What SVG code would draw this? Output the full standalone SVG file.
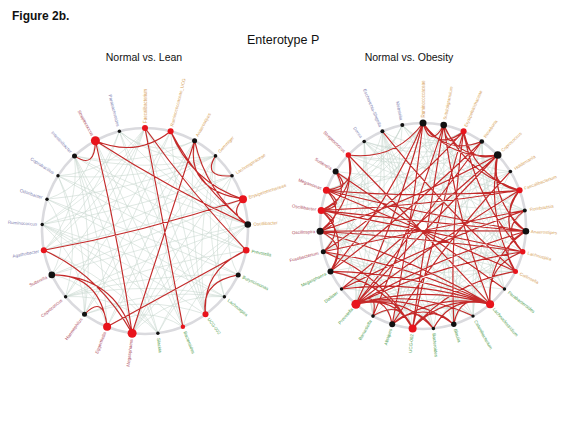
<svg xmlns="http://www.w3.org/2000/svg" xmlns:xlink="http://www.w3.org/1999/xlink" width="567" height="423" viewBox="0 0 567 423">
<style>
.ring{fill:none;stroke:#dadade;stroke-width:2.6}
.web{fill:none;stroke:#c6d6cd;stroke-width:0.5}
.red{fill:none;stroke:#c42a2a;stroke-width:1.15;stroke-linecap:round}
.r{fill:#e8141c}
.b{fill:#111}
.t{font-family:"Liberation Sans",Arial,sans-serif;font-size:4.5px;dominant-baseline:central}
.e{text-anchor:end}
.o{fill:#d6a25a}
.g{fill:#4f9e4f}
.m{fill:#ad4c5e}
.p{fill:#8080b0}
.ttl{font-family:"Liberation Sans",Arial,sans-serif;fill:#111}
</style>
<defs>
<path id="ga" d="M0,-103 Q32.6,-59.3 87,-55.2 M0,-103 Q37.95,-31.4 101.2,19.3 M0,-103 Q14.2,-2.7 37.9,95.8 M0,-103 Q-38.6,-41.1 -102.8,-6.5"/>
<path id="gb" d="M0,-103 Q36.75,-50.6 98,-31.8 M0,-103 Q29.8,-14 79.4,65.7 M0,-103 Q-22.7,-7.4 -60.5,83.3"/>
<path id="gc" d="M0,-103 Q35,-22.2 93.2,43.9 M0,-103 Q-26.4,-66.8 -70.5,-75.1 M0,-103 Q-4.8,-0.3 -12.9,102.2"/>
<path id="ra" d="M0,-103 Q22.05,-70.3 58.8,-84.5 M0,-103 Q38.2,-44.5 101.8,-15.6 M0,-103 Q30.6,-15 81.5,63 M0,-103 Q-36.2,-52.1 -96.6,-35.8 M0,-103 Q-25.2,-9.3 -67.1,78.2"/>
<path id="rb" d="M0,-103 Q32.8,-59.1 87.4,-54.5 M0,-103 Q37.4,-28.95 99.7,25.8 M0,-103 Q18.75,-4.8 50,90.1 M0,-103 Q-38.6,-36.7 -102.9,5.2"/>
<path id="rc" d="M0,-103 Q3.9,-0.2 10.4,102.5 M0,-103 Q-28,-65.3 -74.7,-71 M0,-103 Q-34.7,-21.6 -92.5,45.4 M0,-103 Q-11.55,-1.8 -30.8,98.3"/>
</defs>
<rect width="567" height="423" fill="#fff"/>
<g id="titles">
<text class="ttl" x="12" y="20" font-size="12" font-weight="bold">Figure 2b.</text>
<text class="ttl" x="247" y="44" font-size="12.5">Enterotype P</text>
<text class="ttl" x="144" y="61" font-size="10.5" text-anchor="middle">Normal vs. Lean</text>
<text class="ttl" x="409" y="61" font-size="10.5" text-anchor="middle">Normal vs. Obesity</text>
</g>
<g id="rings">
<circle class="ring" cx="145" cy="231" r="103"/>
<circle class="ring" cx="423" cy="226" r="103"/>
</g>
<g id="connectors">
<g class="web" transform="translate(145,231)">
<use xlink:href="#ga"/><use xlink:href="#gb" transform="rotate(14.4)"/><use xlink:href="#gc" transform="rotate(28.8)"/><use xlink:href="#ga" transform="rotate(43.2)"/><use xlink:href="#gb" transform="rotate(57.6)"/><use xlink:href="#gc" transform="rotate(72)"/><use xlink:href="#ga" transform="rotate(86.4)"/><use xlink:href="#gb" transform="rotate(100.8)"/><use xlink:href="#gc" transform="rotate(115.2)"/><use xlink:href="#ga" transform="rotate(129.6)"/><use xlink:href="#gb" transform="rotate(144)"/><use xlink:href="#gc" transform="rotate(158.4)"/><use xlink:href="#ga" transform="rotate(172.8)"/><use xlink:href="#gb" transform="rotate(187.2)"/><use xlink:href="#gc" transform="rotate(201.6)"/><use xlink:href="#ga" transform="rotate(216)"/><use xlink:href="#gb" transform="rotate(230.4)"/><use xlink:href="#gc" transform="rotate(244.8)"/><use xlink:href="#ga" transform="rotate(259.2)"/><use xlink:href="#gb" transform="rotate(273.6)"/><use xlink:href="#gc" transform="rotate(288)"/><use xlink:href="#ga" transform="rotate(302.4)"/><use xlink:href="#gb" transform="rotate(316.8)"/><use xlink:href="#gc" transform="rotate(331.2)"/><use xlink:href="#ga" transform="rotate(345.6)"/>
</g>
<g class="web" transform="translate(423,226)">
<use xlink:href="#ra"/><use xlink:href="#rb" transform="rotate(11.613)"/><use xlink:href="#rc" transform="rotate(23.226)"/><use xlink:href="#ra" transform="rotate(34.839)"/><use xlink:href="#rb" transform="rotate(46.452)"/><use xlink:href="#rc" transform="rotate(58.065)"/><use xlink:href="#ra" transform="rotate(69.677)"/><use xlink:href="#rb" transform="rotate(81.29)"/><use xlink:href="#rc" transform="rotate(92.903)"/><use xlink:href="#ra" transform="rotate(104.516)"/><use xlink:href="#rb" transform="rotate(116.129)"/><use xlink:href="#rc" transform="rotate(127.742)"/><use xlink:href="#ra" transform="rotate(139.355)"/><use xlink:href="#rb" transform="rotate(150.968)"/><use xlink:href="#rc" transform="rotate(162.581)"/><use xlink:href="#ra" transform="rotate(174.194)"/><use xlink:href="#rb" transform="rotate(185.806)"/><use xlink:href="#rc" transform="rotate(197.419)"/><use xlink:href="#ra" transform="rotate(209.032)"/><use xlink:href="#rb" transform="rotate(220.645)"/><use xlink:href="#rc" transform="rotate(232.258)"/><use xlink:href="#ra" transform="rotate(243.871)"/><use xlink:href="#rb" transform="rotate(255.484)"/><use xlink:href="#rc" transform="rotate(267.097)"/><use xlink:href="#ra" transform="rotate(278.71)"/><use xlink:href="#rb" transform="rotate(290.323)"/><use xlink:href="#rc" transform="rotate(301.935)"/><use xlink:href="#ra" transform="rotate(313.548)"/><use xlink:href="#rb" transform="rotate(325.161)"/><use xlink:href="#rc" transform="rotate(336.774)"/><use xlink:href="#ra" transform="rotate(348.387)"/>
</g>
<path class="red" d="M95.4,140.7 Q137,158 170.6,131.2 M95.4,140.7 Q95,170 74.5,155.9 M95.4,140.7 Q118,236 132.1,333.2 M95.4,140.7 Q172,190 247.8,224.5 M145,128 L182.9,326.8 M145,128 Q191,193 246.2,250.3 M170.6,131.2 Q191,182 243,199.2 M170.6,131.2 Q200,186 247.8,224.5 M194.6,140.7 Q185,190 243,199.2 M194.6,140.7 L132.1,333.2 M215.5,155.9 Q202,178 232,175.8 M243,199.2 Q228,214 247.8,224.5 M243,199.2 Q143,232 43.8,250.3 M246.2,250.3 Q172,291 107.1,326.8 M246.2,250.3 Q202,270 205.5,314.3 M238.2,274.9 Q200,282 205.5,314.3 M43.8,250.3 Q98,274 132.1,333.2 M51.8,274.9 Q114,276 132.1,333.2 M51.8,274.9 Q100,274 107.1,326.8 M84.5,314.3 Q104,294 107.1,326.8 M194.6,140.7 Q206,192 247.8,224.5"/>
<path class="red" d="M423,123 Q438.2,151.9 463.6,131.3 M423,123 Q451,160.8 497.7,155 M443.7,125.1 Q446,152.7 463.6,131.3 M443.7,125.1 Q458.8,161.5 497.7,155 M463.6,131.3 Q466.2,163.9 497.7,155 M423,123 Q445.1,155.7 481.8,141.5 M497.7,155 Q487.2,186 519.6,190.2 M497.7,155 Q489.6,201.3 525.9,231.2 M463.6,131.3 Q474.5,177.1 519.6,190.2 M423,123 Q411.5,224.2 392.2,324.3 M423,123 Q397.8,216.7 355.9,304.2 M443.7,125.1 Q426.9,226.6 412.6,328.5 M443.7,125.1 Q412,222 373,316.1 M463.6,131.3 Q434.3,228.9 412.6,328.5 M463.6,131.3 Q449.8,227.4 453.8,324.3 M481.8,141.5 Q410.4,211.3 330.5,271.4 M497.7,155 Q425.9,228.7 355.9,304.2 M497.7,155 Q412.4,201.3 320.1,231.2 M497.7,155 Q420.5,223 341.5,289 M463.6,131.3 Q400.8,200.2 323.3,251.8 M443.7,125.1 Q455.9,217.5 490.1,304.2 M348.3,155 Q395,160.8 423,123 M348.3,155 Q420.2,228.7 490.1,304.2 M348.3,155 Q358.8,186 326.4,190.2 M348.3,155 Q356.8,193.5 321.2,210.4 M321.2,210.4 Q348.6,206.7 326.4,190.2 M321.2,210.4 Q346.2,222.1 320.1,231.2 M320.1,231.2 Q348.2,214.5 326.4,190.2 M326.4,190.2 Q354,192.1 335.6,171.5 M335.6,171.5 Q352.1,199.7 321.2,210.4 M323.3,251.8 Q347.4,229.8 321.2,210.4 M330.5,271.4 Q349.7,245 320.1,231.2 M330.5,271.4 Q350.1,237.2 321.2,210.4 M326.4,190.2 Q423,199.2 519.6,190.2 M321.2,210.4 Q421.1,206.7 519.6,190.2 M320.1,231.2 Q423,229.9 525.9,231.2 M320.1,231.2 Q421.8,237.6 522.7,251.8 M321.2,210.4 Q423.4,222.1 525.9,231.2 M323.3,251.8 Q423.8,229.8 524.8,210.4 M326.4,190.2 Q421.5,229.6 515.5,271.4 M519.6,190.2 Q497.8,214.5 525.9,231.2 M524.8,210.4 Q498.6,229.8 522.7,251.8 M525.9,231.2 Q496.3,245 515.5,271.4 M519.6,190.2 Q496.6,222.3 522.7,251.8 M525.9,231.2 Q436.4,257.3 355.9,304.2 M522.7,251.8 Q435.2,265 355.9,304.2 M519.6,190.2 Q434.1,241.9 355.9,304.2 M524.8,210.4 Q430.6,243.8 341.5,289 M490.1,304.2 Q423,284.7 355.9,304.2 M490.1,304.2 Q417.6,279 341.5,289 M490.1,304.2 Q413.5,272.4 330.5,271.4 M490.1,304.2 Q410.8,265 323.3,251.8 M490.1,304.2 Q409.6,257.3 320.1,231.2 M490.1,304.2 Q444.3,293.8 412.6,328.5 M490.1,304.2 Q436.6,292.2 392.2,324.3 M490.1,304.2 Q459.7,292.2 453.8,324.3 M490.1,304.2 Q452.1,293.8 433.4,328.5 M355.9,304.2 Q393.9,293.8 412.6,328.5 M355.9,304.2 Q386.3,292.2 392.2,324.3 M355.9,304.2 Q401.7,293.8 433.4,328.5 M355.9,304.2 Q409.4,292.2 453.8,324.3 M355.9,304.2 Q379.1,289.1 373,316.1 M355.9,304.2 Q416.6,289.1 473,316.1 M412.6,328.5 Q430.7,301.3 453.8,324.3 M412.6,328.5 Q400.4,298.2 373,316.1 M412.6,328.5 Q384.4,281.5 330.5,271.4 M453.8,324.3 Q423,299.7 392.2,324.3 M433.4,328.5 Q415.4,301.3 392.2,324.3 M335.6,171.5 Q420.8,229.2 504.5,289 M382.4,131.3 Q442.5,207.5 515.5,271.4 M481.8,141.5 Q419.9,223.6 355.9,304.2 M423,123 Q388.3,204.4 330.5,271.4 M443.7,125.1 Q467,174.7 519.6,190.2 M463.6,131.3 Q475.6,200.2 522.7,251.8 M497.7,155 Q485.7,216.4 515.5,271.4 M423,123 Q430.8,149.5 443.7,125.1 M321.2,210.4 Q422.2,229.8 522.7,251.8 M326.4,190.2 Q425.4,214.5 525.9,231.2 M348.3,155 Q356.4,201.3 320.1,231.2 M323.3,251.8 Q381.7,274.1 412.6,328.5 M522.7,251.8 Q485.6,265 490.1,304.2 M525.9,231.2 Q486.8,257.3 490.1,304.2 M515.5,271.4 Q453.8,281.5 412.6,328.5 M510.4,171.5 Q444.2,242.4 392.2,324.3"/>
</g>
<g id="L0"><circle class="r" cx="145" cy="128" r="3"/><text class="t o" transform="translate(145,123) rotate(-90)">Faecalibacterium</text></g>
<g id="L1"><circle class="r" cx="170.6" cy="131.2" r="3"/><text class="t o" transform="translate(171.9,126.4) rotate(-75.6)">Ruminococcaceae_UCG</text></g>
<g id="L2"><circle class="b" cx="194.6" cy="140.7" r="2.5"/><text class="t o" transform="translate(197,136.4) rotate(-61.2)">Anaerostipes</text></g>
<g id="L3"><circle class="b" cx="215.5" cy="155.9" r="1.8"/><text class="t o" transform="translate(218.9,152.3) rotate(-46.8)">Gemmiger</text></g>
<g id="L4"><circle class="b" cx="232" cy="175.8" r="1.8"/><text class="t o" transform="translate(236.2,173.1) rotate(-32.4)">Lachnospiraceae</text></g>
<g id="L5"><circle class="r" cx="243" cy="199.2" r="4"/><text class="t o" transform="translate(248.7,197.3) rotate(-18)">Erysipelotrichaceae</text></g>
<g id="L6"><circle class="b" cx="247.8" cy="224.5" r="3.3"/><text class="t o" transform="translate(253.3,224.2) rotate(-3.6)">Oscillibacter</text></g>
<g id="L7"><circle class="r" cx="246.2" cy="250.3" r="3.3"/><text class="t g" transform="translate(251.5,251.3) rotate(10.8)">Prevotella</text></g>
<g id="L8"><circle class="b" cx="238.2" cy="274.9" r="2.5"/><text class="t g" transform="translate(242.7,277) rotate(25.2)">Butyricimonas</text></g>
<g id="L9"><circle class="b" cx="224.4" cy="296.7" r="1.7"/><text class="t g" transform="translate(228.2,299.8) rotate(39.6)">Lachnospira</text></g>
<g id="L10"><circle class="r" cx="205.5" cy="314.3" r="3"/><text class="t g" transform="translate(208.5,318.4) rotate(54)">UCG-002</text></g>
<g id="L11"><circle class="r" cx="182.9" cy="326.8" r="2.2"/><text class="t g" transform="translate(184.8,331.4) rotate(68.4)">Bacteroides</text></g>
<g id="L12"><circle class="b" cx="157.9" cy="333.2" r="1.7"/><text class="t g" transform="translate(158.5,338.1) rotate(82.8)">Slackia</text></g>
<g id="L13"><circle class="r" cx="132.1" cy="333.2" r="4.5"/><text class="t e m" transform="translate(131.4,339.2) rotate(-82.8)">Megasphaera</text></g>
<g id="L14"><circle class="r" cx="107.1" cy="326.8" r="4"/><text class="t e m" transform="translate(104.9,332.2) rotate(-68.4)">Eggerthella</text></g>
<g id="L15"><circle class="b" cx="84.5" cy="314.3" r="2.5"/><text class="t e m" transform="translate(81.5,318.4) rotate(-54)">Haemophilus</text></g>
<g id="L16"><circle class="b" cx="65.6" cy="296.7" r="1.7"/><text class="t e m" transform="translate(61.8,299.8) rotate(-39.6)">Coprococcus</text></g>
<g id="L17"><circle class="b" cx="51.8" cy="274.9" r="3.3"/><text class="t e m" transform="translate(46.8,277.2) rotate(-25.2)">Sutterella</text></g>
<g id="L18"><circle class="r" cx="43.8" cy="250.3" r="3"/><text class="t e p" transform="translate(38.9,251.2) rotate(-10.8)">Agathobacter</text></g>
<g id="L19"><circle class="b" cx="42.2" cy="224.5" r="1.7"/><text class="t e p" transform="translate(37.2,224.2) rotate(3.6)">Ruminococcus</text></g>
<g id="L20"><circle class="b" cx="47" cy="199.2" r="1.7"/><text class="t e p" transform="translate(42.3,197.6) rotate(18)">Odoribacter</text></g>
<g id="L21"><circle class="b" cx="58" cy="175.8" r="1.7"/><text class="t e p" transform="translate(53.8,173.1) rotate(32.4)">Coprobacillus</text></g>
<g id="L22"><circle class="b" cx="74.5" cy="155.9" r="2.5"/><text class="t e p" transform="translate(71.1,152.3) rotate(46.8)">Intestinibacter</text></g>
<g id="L23"><circle class="r" cx="95.4" cy="140.7" r="4.5"/><text class="t e m" transform="translate(92.5,135.5) rotate(61.2)">Streptococcus</text></g>
<g id="L24"><circle class="b" cx="119.4" cy="131.2" r="1.7"/><text class="t e p" transform="translate(118.1,126.4) rotate(75.6)">Parabacteroides</text></g>
<g id="R0"><circle class="b" cx="423" cy="123" r="3.5"/><text class="t o" transform="translate(423,117.5) rotate(-90)">Ruminococcaceae</text></g>
<g id="R1"><circle class="b" cx="443.7" cy="125.1" r="3.3"/><text class="t o" transform="translate(444.8,119.7) rotate(-78.39)">Subdoligranulum</text></g>
<g id="R2"><circle class="r" cx="463.6" cy="131.3" r="3"/><text class="t o" transform="translate(465.6,126.7) rotate(-66.77)">Erysipelotrichaceae</text></g>
<g id="R3"><circle class="b" cx="481.8" cy="141.5" r="2.3"/><text class="t o" transform="translate(484.7,137.4) rotate(-55.16)">Roseburia</text></g>
<g id="R4"><circle class="b" cx="497.7" cy="155" r="3.8"/><text class="t o" transform="translate(502,151) rotate(-43.55)">Coprococcus</text></g>
<g id="R5"><circle class="b" cx="510.4" cy="171.5" r="1.8"/><text class="t o" transform="translate(514.6,168.9) rotate(-31.94)">Holdemania</text></g>
<g id="R6"><circle class="r" cx="519.6" cy="190.2" r="3"/><text class="t o" transform="translate(524.3,188.5) rotate(-20.32)">Faecalibacterium</text></g>
<g id="R7"><circle class="b" cx="524.8" cy="210.4" r="2"/><text class="t o" transform="translate(529.8,209.6) rotate(-8.71)">Romboutsia</text></g>
<g id="R8"><circle class="b" cx="525.9" cy="231.2" r="3.3"/><text class="t o" transform="translate(530.9,231.5) rotate(2.9)">Anaerostipes</text></g>
<g id="R9"><circle class="r" cx="522.7" cy="251.8" r="2.7"/><text class="t o" transform="translate(527.6,253.1) rotate(14.52)">Lachnospira</text></g>
<g id="R10"><circle class="r" cx="515.5" cy="271.4" r="2.5"/><text class="t o" transform="translate(520,273.6) rotate(26.13)">Collinsella</text></g>
<g id="R11"><circle class="b" cx="504.5" cy="289" r="1.7"/><text class="t g" transform="translate(508.4,292.1) rotate(37.74)">Parabacteroides</text></g>
<g id="R12"><circle class="r" cx="490.1" cy="304.2" r="4"/><text class="t g" transform="translate(493.6,308.4) rotate(49.35)">Lachnoclostridium</text></g>
<g id="R13"><circle class="b" cx="473" cy="316.1" r="1.7"/><text class="t g" transform="translate(475.4,320.4) rotate(60.97)">Catenibacterium</text></g>
<g id="R14"><circle class="b" cx="453.8" cy="324.3" r="2.7"/><text class="t g" transform="translate(455.3,329) rotate(72.58)">Blautia</text></g>
<g id="R15"><circle class="b" cx="433.4" cy="328.5" r="1.7"/><text class="t g" transform="translate(433.9,333.4) rotate(84.19)">Bacteroides</text></g>
<g id="R16"><circle class="r" cx="412.6" cy="328.5" r="4"/><text class="t e g" transform="translate(412.1,334) rotate(-84.19)">UCG-002</text></g>
<g id="R17"><circle class="b" cx="392.2" cy="324.3" r="3"/><text class="t e g" transform="translate(390.7,329) rotate(-72.58)">Alistipes</text></g>
<g id="R18"><circle class="b" cx="373" cy="316.1" r="1.8"/><text class="t e g" transform="translate(370.6,320.4) rotate(-60.97)">Barnesiella</text></g>
<g id="R19"><circle class="r" cx="355.9" cy="304.2" r="4.5"/><text class="t e g" transform="translate(352.2,308.6) rotate(-49.35)">Prevotella</text></g>
<g id="R20"><circle class="b" cx="341.5" cy="289" r="1.7"/><text class="t e g" transform="translate(337.6,292.1) rotate(-37.74)">Dialister</text></g>
<g id="R21"><circle class="b" cx="330.5" cy="271.4" r="3"/><text class="t e g" transform="translate(326,273.6) rotate(-26.13)">Megasphaera</text></g>
<g id="R22"><circle class="b" cx="323.3" cy="251.8" r="2.5"/><text class="t e m" transform="translate(318.4,253.1) rotate(-14.52)">Fusobacterium</text></g>
<g id="R23"><circle class="b" cx="320.1" cy="231.2" r="3.5"/><text class="t e m" transform="translate(315.1,231.5) rotate(-2.9)">Oscillospira</text></g>
<g id="R24"><circle class="r" cx="321.2" cy="210.4" r="3.5"/><text class="t e m" transform="translate(316.2,209.6) rotate(8.71)">Oscillibacter</text></g>
<g id="R25"><circle class="r" cx="326.4" cy="190.2" r="3.5"/><text class="t e m" transform="translate(321.7,188.5) rotate(20.32)">Megamonas</text></g>
<g id="R26"><circle class="b" cx="335.6" cy="171.5" r="3"/><text class="t e m" transform="translate(331.4,168.9) rotate(31.94)">Sutterella</text></g>
<g id="R27"><circle class="r" cx="348.3" cy="155" r="2.7"/><text class="t e m" transform="translate(344.7,151.6) rotate(43.55)">Streptococcus</text></g>
<g id="R28"><circle class="b" cx="364.2" cy="141.5" r="1.8"/><text class="t e p" transform="translate(361.3,137.4) rotate(55.16)">Dorea</text></g>
<g id="R29"><circle class="b" cx="382.4" cy="131.3" r="2"/><text class="t e p" transform="translate(380.4,126.7) rotate(66.77)">Escherichia-Shigella</text></g>
<g id="R30"><circle class="b" cx="402.3" cy="125.1" r="2"/><text class="t e p" transform="translate(401.3,120.2) rotate(78.39)">Klebsiella</text></g>
</svg>
